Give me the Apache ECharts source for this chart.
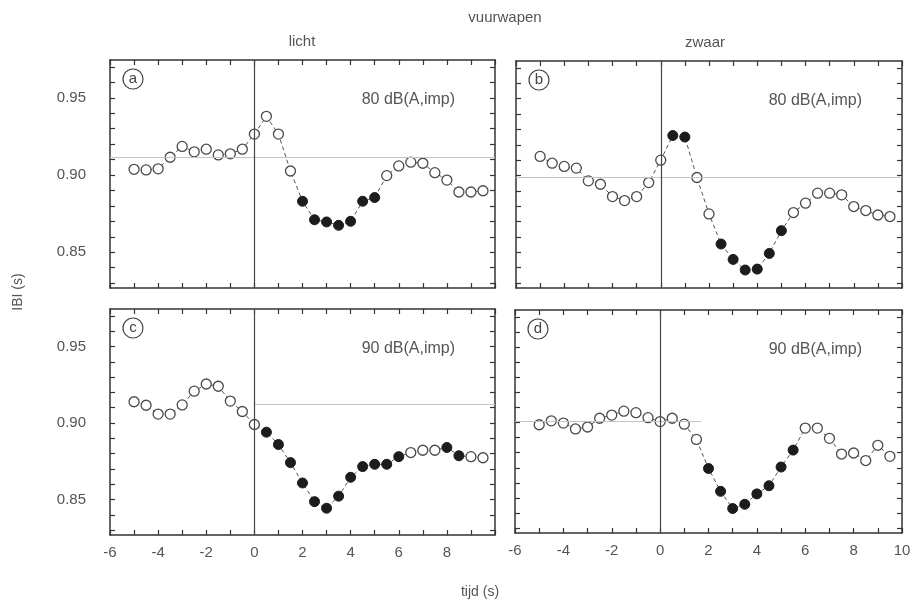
<!DOCTYPE html>
<html>
<head>
<meta charset="utf-8">
<script src="https://cdn.jsdelivr.net/npm/echarts@6/dist/echarts.min.js"></script>
<style>
  html, body { margin: 0; background: #fff; }
  #main { width: 916px; height: 608px; }
</style>
</head>
<body>
<div id="main"></div>
<script>
// tijd (s) van elk meetpunt
const times = [-5, -4.5, -4, -3.5, -3, -2.5, -2, -1.5, -1, -0.5, 0, 0.5, 1, 1.5, 2,
  2.5, 3, 3.5, 4, 4.5, 5, 5.5, 6, 6.5, 7, 7.5, 8, 8.5, 9, 9.5]

// IBI (s) per paneel
const ibiA = [0.9037, 0.9033, 0.904, 0.9115, 0.9185, 0.915, 0.9167, 0.913, 0.9137, 0.9167,
  0.9265, 0.938, 0.9265, 0.9026, 0.883, 0.871, 0.8696, 0.8674, 0.870, 0.883,
  0.8854, 0.8996, 0.9059, 0.9083, 0.9076, 0.9015, 0.8967, 0.889, 0.889, 0.8898]
const ibiB = [0.9124, 0.908, 0.9059, 0.9048, 0.8965, 0.8943, 0.8863, 0.8837, 0.8863, 0.8954,
  0.910, 0.926, 0.925, 0.8987, 0.875, 0.8554, 0.8454, 0.8385, 0.8391, 0.8493,
  0.8641, 0.8759, 0.882, 0.8885, 0.8885, 0.8874, 0.8798, 0.8772, 0.8743, 0.8733]
const ibiC = [0.9139, 0.9116, 0.9058, 0.9058, 0.9118, 0.9208, 0.9255, 0.924, 0.9143, 0.9075,
  0.899, 0.894, 0.8859, 0.8741, 0.8608, 0.8486, 0.8443, 0.8522, 0.8645, 0.8715,
  0.873, 0.873, 0.878, 0.8807, 0.8822, 0.8822, 0.884, 0.8786, 0.878, 0.8773]
const ibiD = [0.8985, 0.9011, 0.8996, 0.8957, 0.897, 0.9028, 0.9049, 0.9075, 0.9065, 0.9032,
  0.9006, 0.9028, 0.8989, 0.8888, 0.8695, 0.8544, 0.843, 0.8458, 0.8527, 0.8581,
  0.8705, 0.8817, 0.8963, 0.8963, 0.8895, 0.8791, 0.8798, 0.8748, 0.8849, 0.8776]

// tijdstippen met gevulde (significante) punten
const filledA = [2, 2.5, 3, 3.5, 4, 4.5, 5]
const filledB = [0.5, 1, 2.5, 3, 3.5, 4, 4.5, 5]
const filledC = [0.5, 1, 1.5, 2, 2.5, 3, 3.5, 4, 4.5, 5, 5.5, 6, 8, 8.5]
const filledD = [2, 2.5, 3, 3.5, 4, 4.5, 5, 5.5]

// horizontale referentielijn: [van, tot, niveau]
const refA = [-6, 10, 0.9117]
const refB = [-6, 10, 0.8987]
const refC = [0, 10, 0.912]
const refD = [-6, 1.7, 0.901]

const xTicks = [-6, -5, -4, -3, -2, -1, 0, 1, 2, 3, 4, 5, 6, 7, 8, 9, 10]
const xLabelsLeft = [-6, -4, -2, 0, 2, 4, 6, 8]
const xLabelsRight = [-6, -4, -2, 0, 2, 4, 6, 8, 10]
const yTicks = [0.83, 0.84, 0.85, 0.86, 0.87, 0.88, 0.89, 0.90, 0.91, 0.92, 0.93, 0.94, 0.95, 0.96, 0.97]
const yLabels = [0.85, 0.90, 0.95]

const levels = ['80 dB(A,imp)', '80 dB(A,imp)', '90 dB(A,imp)', '90 dB(A,imp)']
const letters = ['a', 'b', 'c', 'd']

const FONT = 'Liberation Sans'
const INK = '#333'
const TXT = '#555'

const panels = [
  { left: 110, top: 60, width: 385, height: 228, ibi: ibiA, filled: filledA, ref: refA, xLab: null, yLab: true },
  { left: 516, top: 61, width: 386, height: 227, ibi: ibiB, filled: filledB, ref: refB, xLab: null, yLab: false },
  { left: 110, top: 309, width: 385, height: 226, ibi: ibiC, filled: filledC, ref: refC, xLab: xLabelsLeft, yLab: true },
  { left: 515, top: 310, width: 387, height: 223, ibi: ibiD, filled: filledD, ref: refD, xLab: xLabelsRight, yLab: false }
]

const chart = echarts.init(document.getElementById('main'), null, { renderer: 'canvas' })

let grids = [], xAxes = [], yAxes = [], series = [], graphics = []

panels.forEach((p, i) => {
  grids.push({ left: p.left, top: p.top, width: p.width, height: p.height })

  const line = { show: true, onZero: false, lineStyle: { color: INK, width: 1.5 } }
  const tickX = { show: true, inside: true, length: 5, customValues: xTicks, lineStyle: { color: INK, width: 1.2 } }
  const tickY = { show: true, inside: true, length: 5, customValues: yTicks, lineStyle: { color: INK, width: 1.2 } }

  // x onder en boven
  xAxes.push({
    gridIndex: i, type: 'value', min: -6, max: 10, position: 'bottom',
    axisLine: line, axisTick: tickX, splitLine: { show: false },
    axisLabel: p.xLab ? { show: true, customValues: p.xLab, color: TXT, fontFamily: FONT, fontSize: 15, margin: 10 } : { show: false }
  })
  xAxes.push({
    gridIndex: i, type: 'value', min: -6, max: 10, position: 'top',
    axisLine: line, axisTick: tickX, splitLine: { show: false }, axisLabel: { show: false }
  })
  // y links en rechts
  yAxes.push({
    gridIndex: i, type: 'value', min: 0.8268, max: 0.9745, position: 'left',
    axisLine: line, axisTick: tickY, splitLine: { show: false },
    axisLabel: p.yLab ? { show: true, customValues: yLabels, formatter: v => v.toFixed(2), color: TXT, fontFamily: FONT, fontSize: 15, margin: 24 } : { show: false }
  })
  yAxes.push({
    gridIndex: i, type: 'value', min: 0.8268, max: 0.9745, position: 'right',
    axisLine: line, axisTick: tickY, splitLine: { show: false }, axisLabel: { show: false }
  })

  const data = times.map((t, k) => {
    const full = p.filled.indexOf(t) >= 0
    return {
      value: [t, p.ibi[k]],
      itemStyle: full ? { color: '#1c1c1c', borderColor: '#1c1c1c', borderWidth: 1 } : { color: '#fff', borderColor: '#4a4a4a', borderWidth: 1.3 }
    }
  })

  series.push({
    type: 'line', xAxisIndex: i * 2, yAxisIndex: i * 2,
    data: data, symbol: 'circle', symbolSize: 10, showAllSymbol: true,
    lineStyle: { color: '#555', width: 1, type: [4, 3] },
    animation: false, z: 3,
    markLine: {
      silent: true, symbol: ['none', 'none'], label: { show: false }, animation: false,
      data: [
        [{ coord: [p.ref[0], p.ref[2]], lineStyle: { color: '#c4c4c4', width: 1, type: 'solid' } },
         { coord: [p.ref[1], p.ref[2]] }],
        { xAxis: 0, lineStyle: { color: '#444', width: 1.2, type: 'solid' } }
      ]
    }
  })

  // paneelletter in cirkel en geluidsniveau
  graphics.push({ type: 'circle', shape: { cx: p.left + 23, cy: p.top + 19, r: 10 }, style: { fill: 'none', stroke: '#444', lineWidth: 1.2 } })
  graphics.push({ type: 'text', x: p.left + 23, y: p.top + 19, style: { text: letters[i], fill: '#444', font: '15px ' + FONT, align: 'center', verticalAlign: 'middle' } })
  graphics.push({ type: 'text', x: p.left + p.width - 40, y: p.top + 40, style: { text: levels[i], fill: TXT, font: '16px ' + FONT, align: 'right', verticalAlign: 'middle' } })
})

graphics.push({ type: 'text', x: 505, y: 18, style: { text: 'vuurwapen', fill: TXT, font: '15px ' + FONT, align: 'center', verticalAlign: 'middle' } })
graphics.push({ type: 'text', x: 302, y: 42, style: { text: 'licht', fill: TXT, font: '15px ' + FONT, align: 'center', verticalAlign: 'middle' } })
graphics.push({ type: 'text', x: 705, y: 43, style: { text: 'zwaar', fill: TXT, font: '15px ' + FONT, align: 'center', verticalAlign: 'middle' } })
graphics.push({ type: 'text', x: 480, y: 592, style: { text: 'tijd (s)', fill: TXT, font: '14px ' + FONT, align: 'center', verticalAlign: 'middle' } })
graphics.push({ type: 'text', x: 18, y: 292, rotation: Math.PI / 2, style: { text: 'IBI (s)', fill: TXT, font: '14px ' + FONT, align: 'center', verticalAlign: 'middle' } })

chart.setOption({
  backgroundColor: '#fff',
  animation: false,
  grid: grids,
  xAxis: xAxes,
  yAxis: yAxes,
  series: series,
  graphic: graphics
})
</script>
</body>
</html>
